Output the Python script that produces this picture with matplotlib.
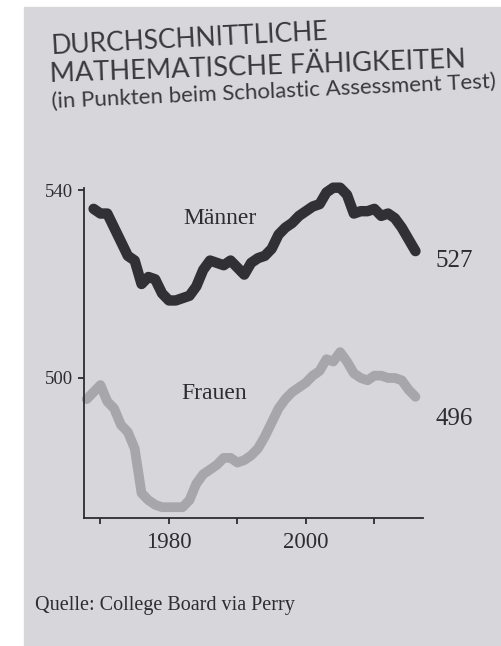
import matplotlib.pyplot as plt
from matplotlib.patches import Rectangle

# Mean SAT math scores by sex
years_m = list(range(1969, 2017))
men = [536, 535, 535, 532, 529, 526, 525, 520, 521.5, 521, 518, 516.5,
       516.5, 517, 517.5, 519.5, 523, 525, 524.5, 524, 525, 523.5, 522, 524.5,
       525.5, 526, 527.5, 530.5, 532, 533, 534.5, 535.5, 536.5, 537, 539.5, 540.5,
       540.5, 539, 535, 535.5, 535.5, 536, 534.5, 535, 534, 532, 529.5, 527]

years_f = list(range(1968, 2017))
women = [495.5, 497, 498.5, 495, 493.5, 490, 488.5, 485, 475.5, 474, 473, 472.5,
         472.5, 472.5, 472.5, 474, 477.5, 479.5, 480.5, 481.5, 483, 483, 482, 482.5,
         483.5, 485, 487.5, 490.5, 493.5, 495.5, 497, 498, 499, 500.5, 501.5, 504,
         503.5, 505.5, 503.5, 501, 500, 499.5, 500.5, 500.5, 500, 500, 499.5, 497.5, 496]

xticks = [1970, 1980, 1990, 2000, 2010]
xticklabels = ["", "1980", "", "2000", ""]
yticks = [500, 540]

W, H = 501, 646
page = "#d7d7db"
ink = "#2c2c31"

fig = plt.figure(figsize=(W / 100, H / 100), dpi=100, facecolor="white")
fig.patches.append(Rectangle((24 / W, 0), 1 - 24 / W, 1 - 7 / H,
                             transform=fig.transFigure, color=page, zorder=-5))

ax = fig.add_axes([84 / W, 1 - 518 / H, (423 - 84) / W, (518 - 187.7) / H])
ax.set_facecolor("none")
ax.set_zorder(2)
ax.set_xlim(1967.6, 2017.1)
ax.set_ylim(470.2, 540.5)

ax.plot(years_f, women, color="#a7a7ab", lw=7, solid_capstyle="round",
        solid_joinstyle="round", clip_on=False)
ax.plot(years_m, men, color="#303035", lw=7.5, solid_capstyle="round",
        solid_joinstyle="round", clip_on=False)

for s in ["top", "right"]:
    ax.spines[s].set_visible(False)
for s in ["left", "bottom"]:
    ax.spines[s].set_color(ink)
    ax.spines[s].set_linewidth(1.3)

serif = "Liberation Serif"
ax.set_xticks(xticks)
ax.set_xticklabels(xticklabels, fontfamily=serif, fontsize=16.5, color=ink)
ax.set_yticks(yticks)
ax.set_yticklabels([str(v) for v in yticks], fontfamily=serif, fontsize=13.5,
                   color=ink)
ax.tick_params(axis="x", direction="out", length=4, width=1.3, color=ink, pad=6)
ax.tick_params(axis="y", direction="out", length=4, width=1.3, color=ink, pad=4)

ax.text(1987.4, 534.0, "Männer", fontfamily=serif, fontsize=17, color=ink,
        ha="center", va="center")
ax.text(1986.6, 496.8, "Frauen", fontfamily=serif, fontsize=17, color=ink,
        ha="center", va="center")

ax.annotate(f"{men[-1]:.0f}", xy=(years_m[-1], men[-1]), xytext=(14.4, -7.2),
            textcoords="offset points", fontfamily=serif, fontsize=18,
            color=ink, ha="left", va="center", annotation_clip=False)
ax.annotate(f"{women[-1]:.0f}", xy=(years_f[-1], women[-1]), xytext=(14.4, -15.8),
            textcoords="offset points", fontfamily=serif, fontsize=18,
            color=ink, ha="left", va="center", annotation_clip=False)

title_color = "#38383d"
fig.text(52 / W, 1 - 54 / H, "DURCHSCHNITTLICHE", fontfamily="Lato",
         fontsize=19, color=title_color, rotation=3, rotation_mode="anchor",
         ha="left", va="baseline")
fig.text(50 / W, 1 - 82 / H, "MATHEMATISCHE FÄHIGKEITEN", fontfamily="Lato",
         fontsize=19.6, color=title_color, rotation=2, rotation_mode="anchor",
         ha="left", va="baseline")
fig.text(52 / W, 1 - 108 / H, "(in Punkten beim Scholastic Assessment Test)",
         fontfamily="Lato", fontsize=16, color=title_color, rotation=2.6,
         rotation_mode="anchor", ha="left", va="baseline")

fig.text(35 / W, 1 - 610 / H, "Quelle: College Board via Perry",
         fontfamily=serif, fontsize=14.5, color=ink, ha="left", va="baseline")

fig.savefig("out.png", dpi=100, facecolor=fig.get_facecolor())
